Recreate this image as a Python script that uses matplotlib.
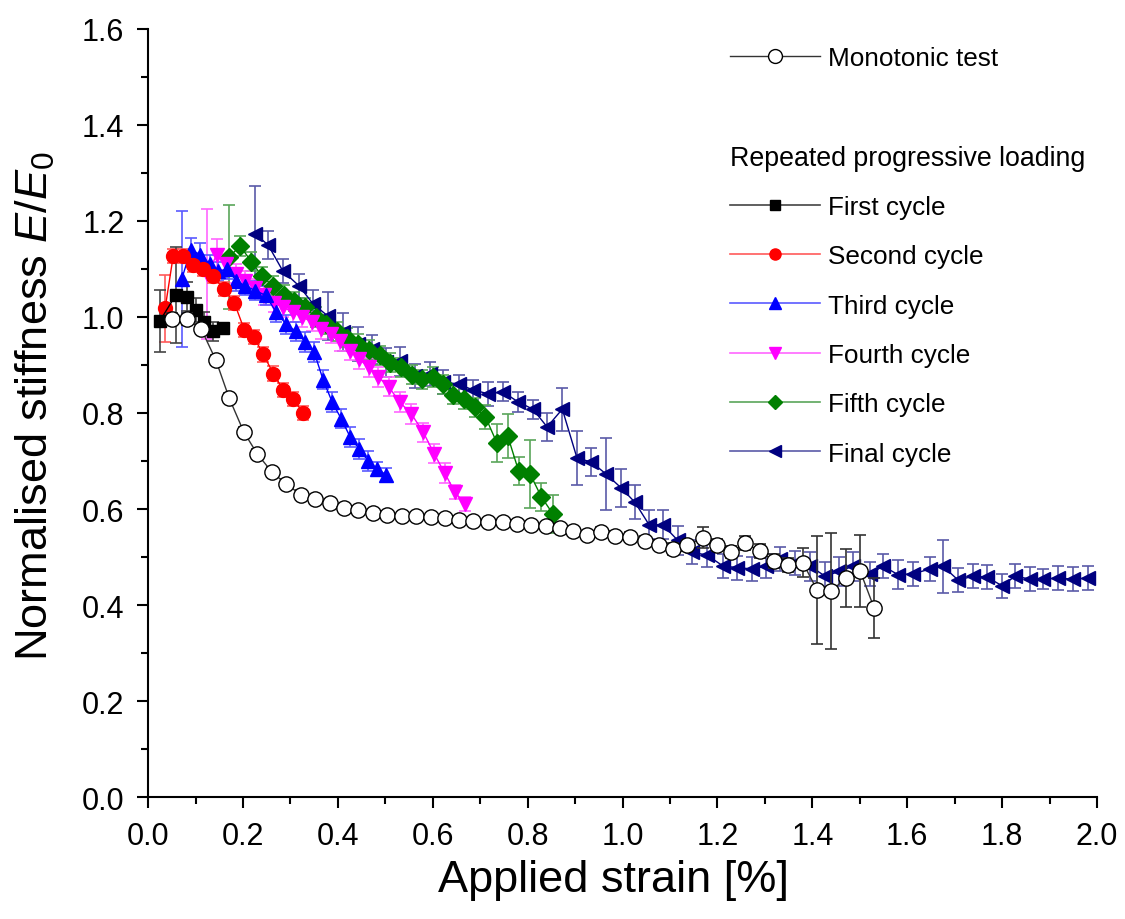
import numpy as np
import matplotlib.pyplot as plt
from matplotlib.ticker import MultipleLocator
from matplotlib.lines import Line2D

plt.rcParams['font.family'] = ['Liberation Sans', 'DejaVu Sans']
plt.rcParams['mathtext.fontset'] = 'custom'
plt.rcParams['mathtext.rm'] = 'Liberation Sans'
plt.rcParams['mathtext.it'] = 'Liberation Sans:italic'

# --- data ---
mono_x = [0.051, 0.082, 0.112, 0.143, 0.171, 0.202, 0.230, 0.261, 0.291, 0.322,
          0.352, 0.384, 0.413, 0.443, 0.474, 0.504, 0.535, 0.565, 0.596, 0.626,
          0.655, 0.685, 0.717, 0.748, 0.778, 0.807, 0.839, 0.868, 0.896, 0.925,
          0.955, 0.984, 1.016, 1.047, 1.077, 1.106, 1.136, 1.170, 1.199, 1.229,
          1.258, 1.290, 1.319, 1.349, 1.380, 1.410, 1.439, 1.471, 1.501, 1.530]
mono_y = [0.996, 0.996, 0.975, 0.910, 0.831, 0.760, 0.715, 0.677, 0.652, 0.630,
          0.620, 0.612, 0.603, 0.597, 0.592, 0.588, 0.585, 0.585, 0.583, 0.581,
          0.577, 0.575, 0.573, 0.572, 0.569, 0.567, 0.564, 0.560, 0.555, 0.545,
          0.552, 0.544, 0.542, 0.534, 0.525, 0.517, 0.524, 0.540, 0.525, 0.510,
          0.529, 0.512, 0.492, 0.483, 0.488, 0.431, 0.429, 0.456, 0.470, 0.394]
mono_e = [0.012, 0.012, 0.010, 0.010, 0.010, 0.010, 0.010, 0.010, 0.010, 0.010,
          0.008, 0.008, 0.008, 0.008, 0.008, 0.008, 0.008, 0.008, 0.008, 0.008,
          0.008, 0.008, 0.008, 0.008, 0.008, 0.008, 0.008, 0.008, 0.010, 0.010,
          0.010, 0.010, 0.010, 0.010, 0.010, 0.012, 0.012, 0.022, 0.012, 0.012,
          0.015, 0.015, 0.015, 0.015, 0.030, 0.113, 0.120, 0.060, 0.075, 0.063]

first_x = [0.025, 0.058, 0.082, 0.100, 0.118, 0.136, 0.158]
first_y = [0.992, 1.045, 1.042, 1.015, 0.990, 0.970, 0.978]
first_e = [0.065, 0.100, 0.030, 0.025, 0.020, 0.020, 0.010]

second_x = [0.036, 0.053, 0.074, 0.095, 0.116, 0.137, 0.160, 0.182, 0.203,
            0.223, 0.243, 0.264, 0.285, 0.306, 0.327]
second_y = [1.018, 1.127, 1.127, 1.108, 1.100, 1.085, 1.058, 1.029, 0.973,
            0.958, 0.922, 0.882, 0.848, 0.829, 0.800]
second_e = [0.070, 0.015, 0.015, 0.015, 0.015, 0.015, 0.015, 0.015, 0.015,
            0.015, 0.015, 0.015, 0.015, 0.015, 0.015]

third_x = [0.071, 0.090, 0.110, 0.130, 0.148, 0.167, 0.186, 0.205, 0.226,
           0.248, 0.270, 0.291, 0.312, 0.331, 0.350, 0.369, 0.388, 0.407,
           0.426, 0.445, 0.464, 0.483, 0.502]
third_y = [1.079, 1.140, 1.130, 1.110, 1.095, 1.100, 1.075, 1.065, 1.055,
           1.045, 1.010, 0.985, 0.970, 0.948, 0.927, 0.869, 0.823, 0.788,
           0.750, 0.725, 0.700, 0.683, 0.671]
third_e = [0.142, 0.025, 0.025, 0.020, 0.020, 0.020, 0.020, 0.020, 0.020,
           0.020, 0.020, 0.020, 0.020, 0.020, 0.020, 0.020, 0.020, 0.020,
           0.020, 0.020, 0.020, 0.015, 0.015]

fourth_x = [0.125, 0.145, 0.165, 0.185, 0.205, 0.225, 0.245, 0.265, 0.285,
            0.305, 0.325, 0.345, 0.365, 0.385, 0.405, 0.425, 0.445, 0.465,
            0.485, 0.507, 0.530, 0.555, 0.580, 0.603, 0.625, 0.647, 0.668]
fourth_y = [1.090, 1.130, 1.110, 1.090, 1.075, 1.060, 1.045, 1.030, 1.020,
            1.010, 1.000, 0.990, 0.975, 0.965, 0.950, 0.930, 0.912, 0.895,
            0.875, 0.855, 0.823, 0.798, 0.760, 0.715, 0.675, 0.635, 0.610]
fourth_e = [0.135, 0.033, 0.020, 0.020, 0.020, 0.020, 0.020, 0.020, 0.020,
            0.020, 0.020, 0.020, 0.020, 0.020, 0.020, 0.020, 0.020, 0.020,
            0.020, 0.020, 0.020, 0.020, 0.020, 0.020, 0.020, 0.015, 0.015]

fifth_x = [0.171, 0.194, 0.218, 0.240, 0.263, 0.286, 0.308, 0.330, 0.353,
           0.376, 0.398, 0.420, 0.443, 0.466, 0.488, 0.510, 0.533, 0.556,
           0.578, 0.600, 0.622, 0.643, 0.665, 0.688, 0.711, 0.735, 0.758,
           0.781, 0.805, 0.829, 0.853]
fifth_y = [1.125, 1.148, 1.115, 1.085, 1.065, 1.046, 1.033, 1.020, 1.000,
           0.985, 0.970, 0.957, 0.944, 0.932, 0.920, 0.905, 0.895, 0.880,
           0.870, 0.875, 0.860, 0.838, 0.829, 0.812, 0.792, 0.738, 0.752,
           0.679, 0.673, 0.625, 0.590]
fifth_e = [0.108, 0.020, 0.020, 0.020, 0.020, 0.020, 0.020, 0.020, 0.020,
           0.020, 0.020, 0.020, 0.020, 0.020, 0.020, 0.020, 0.020, 0.020,
           0.020, 0.020, 0.020, 0.020, 0.020, 0.020, 0.025, 0.040, 0.045,
           0.030, 0.070, 0.030, 0.040]

final_x = [0.226, 0.253, 0.284, 0.318, 0.348, 0.379, 0.411, 0.443, 0.472,
           0.502, 0.531, 0.563, 0.594, 0.622, 0.655, 0.685, 0.717, 0.748,
           0.780, 0.811, 0.841, 0.873, 0.904, 0.934, 0.965, 0.997, 1.026,
           1.056, 1.085, 1.116, 1.146, 1.178, 1.212, 1.242, 1.273, 1.302,
           1.332, 1.363, 1.395, 1.427, 1.456, 1.486, 1.522, 1.549, 1.581,
           1.612, 1.648, 1.675, 1.707, 1.739, 1.768, 1.800, 1.827, 1.859,
           1.886, 1.918, 1.949, 1.981]
final_y = [1.173, 1.150, 1.096, 1.065, 1.027, 1.002, 0.969, 0.944, 0.933,
           0.906, 0.908, 0.877, 0.881, 0.865, 0.860, 0.848, 0.840, 0.844,
           0.823, 0.808, 0.771, 0.808, 0.706, 0.698, 0.673, 0.644, 0.614,
           0.567, 0.567, 0.535, 0.510, 0.504, 0.481, 0.478, 0.475, 0.481,
           0.496, 0.488, 0.481, 0.460, 0.470, 0.481, 0.465, 0.481, 0.463,
           0.465, 0.475, 0.481, 0.452, 0.460, 0.458, 0.440, 0.460, 0.454,
           0.454, 0.456, 0.454, 0.456]
final_e = [0.100, 0.030, 0.025, 0.025, 0.030, 0.050, 0.040, 0.035, 0.030,
           0.030, 0.030, 0.025, 0.025, 0.025, 0.020, 0.020, 0.025, 0.020,
           0.020, 0.020, 0.030, 0.045, 0.056, 0.030, 0.075, 0.040, 0.035,
           0.030, 0.030, 0.030, 0.025, 0.025, 0.025, 0.025, 0.025, 0.025,
           0.025, 0.025, 0.030, 0.030, 0.030, 0.030, 0.025, 0.025, 0.030,
           0.025, 0.025, 0.055, 0.025, 0.025, 0.025, 0.025, 0.025, 0.025,
           0.020, 0.025, 0.025, 0.025]

series = [
    ('Final cycle', final_x, final_y, final_e, '<', '#000080', '#5a5aa8', 10),
    ('Fifth cycle', fifth_x, fifth_y, fifth_e, 'D', '#008000', '#5aa65a', 9),
    ('Fourth cycle', fourth_x, fourth_y, fourth_e, 'v', '#ff00ff', '#ff66ff', 10),
    ('Third cycle', third_x, third_y, third_e, '^', '#0000ff', '#5a5aff', 10),
    ('Second cycle', second_x, second_y, second_e, 'o', '#ff0000', '#ff5a5a', 10),
    ('First cycle', first_x, first_y, first_e, 's', '#000000', '#444444', 9),
]

fig = plt.figure(figsize=(11.25, 9.2), dpi=100)
ax = fig.add_axes([0.1316, 0.1326, 0.8436, 0.8348])

for name, x, y, e, m, c, ec, ms in series:
    ax.errorbar(x, y, yerr=e, fmt='-', marker=m, color=c, ecolor=ec,
                mfc=c, mec=c, ms=ms, lw=1.0, elinewidth=1.2, capsize=4.5,
                capthick=1.2)

ax.errorbar(mono_x, mono_y, yerr=mono_e, fmt='-', marker='o', color='#333333',
            ecolor='#333333', mfc='white', mec='black', ms=11, lw=1.0,
            elinewidth=1.2, capsize=4.5, capthick=1.2, zorder=5)

ax.set_xlim(0, 2.0)
ax.set_ylim(0, 1.6)
ax.xaxis.set_major_locator(MultipleLocator(0.2))
ax.xaxis.set_minor_locator(MultipleLocator(0.1))
ax.yaxis.set_major_locator(MultipleLocator(0.2))
ax.yaxis.set_minor_locator(MultipleLocator(0.1))
ax.xaxis.set_major_formatter(plt.FormatStrFormatter('%.1f'))
ax.yaxis.set_major_formatter(plt.FormatStrFormatter('%.1f'))
ax.tick_params(which='major', direction='out', length=8, width=1.5,
               labelsize=22, pad=9)
ax.tick_params(which='minor', direction='out', length=5, width=1.5)
for s in ['top', 'right']:
    ax.spines[s].set_visible(False)
for s in ['left', 'bottom']:
    ax.spines[s].set_linewidth(1.5)

ax.set_xlabel('Applied strain [%]', fontsize=32.5, va='center')
ax.xaxis.set_label_coords(0.49, (798 - 880) / 768)
ax.set_ylabel(r'Normalised stiffness $E/E_{\mathit{0}}$', fontsize=32.5,
              va='center')
ax.yaxis.set_label_coords((35 - 148) / 949, 0.51)

# legends
mono_h = Line2D([], [], color='#333333', lw=1, marker='o', mfc='white',
                mec='black', ms=10)
leg1 = fig.legend(handles=[mono_h], labels=['Monotonic test'],
                  loc='upper left', bbox_to_anchor=(0.649, 0.949),
                  frameon=False, fontsize=18.8, handlelength=3.45,
                  handletextpad=0.3, borderpad=0, borderaxespad=0)

cyc_h = []
cyc_l = []
for name, x, y, e, m, c, ec, ms in series[::-1]:
    cyc_h.append(Line2D([], [], color=ec, lw=1.2, marker=m, mfc=c, mec=c,
                        ms=ms * 0.8))
    cyc_l.append(name)
leg2 = fig.legend(handles=cyc_h, labels=cyc_l, loc='upper left',
                  bbox_to_anchor=(0.649, 0.841), frameon=False, fontsize=18.8,
                  title='Repeated progressive loading', title_fontsize=19.3,
                  alignment='left', handlelength=3.45, handletextpad=0.3,
                  labelspacing=0.97, borderpad=0, borderaxespad=0)
leg2._legend_box.sep = 17

fig.savefig('out.png', dpi=100)
